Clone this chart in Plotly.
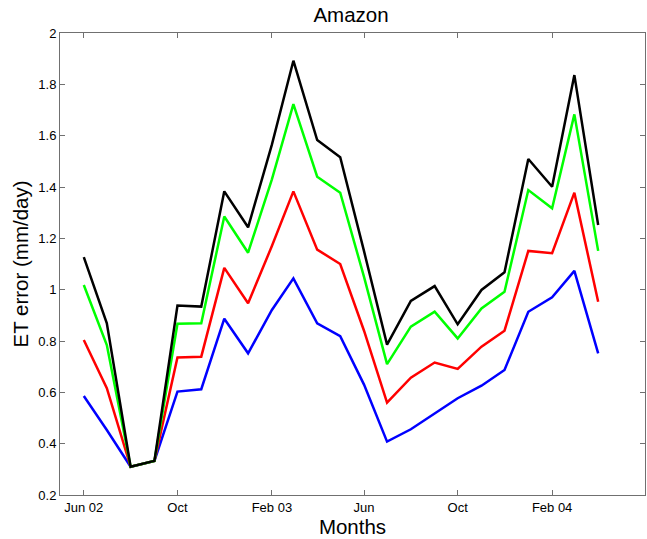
import plotly.graph_objects as go

months = ["2002-06-01", "2002-07-01", "2002-08-01", "2002-09-01", "2002-10-01", "2002-11-01",
          "2002-12-01", "2003-01-01", "2003-02-01", "2003-03-01", "2003-04-01", "2003-05-01",
          "2003-06-01", "2003-07-01", "2003-08-01", "2003-09-01", "2003-10-01", "2003-11-01",
          "2003-12-01", "2004-01-01", "2004-02-01", "2004-03-01", "2004-04-01"]

blue = [0.586, 0.453, 0.31, 0.333, 0.603, 0.612, 0.887, 0.752, 0.921, 1.044, 0.869, 0.819,
        0.63, 0.408, 0.456, 0.516, 0.577, 0.626, 0.687, 0.914, 0.970, 1.073, 0.752]
red = [0.804, 0.616, 0.31, 0.333, 0.736, 0.739, 1.085, 0.947, 1.17, 1.383, 1.156, 1.10,
       0.84, 0.56, 0.657, 0.716, 0.691, 0.778, 0.84, 1.151, 1.142, 1.378, 0.953]
green = [1.018, 0.784, 0.31, 0.333, 0.867, 0.869, 1.285, 1.144, 1.43, 1.723, 1.44, 1.378,
         1.05, 0.71, 0.856, 0.914, 0.81, 0.927, 0.992, 1.388, 1.317, 1.683, 1.151]
black = [1.127, 0.869, 0.31, 0.333, 0.938, 0.934, 1.383, 1.243, 1.565, 1.892, 1.583, 1.516,
         1.15, 0.786, 0.956, 1.014, 0.865, 0.999, 1.068, 1.509, 1.401, 1.836, 1.252]

x_tick_vals = ["2002-06-01", "2002-10-01", "2003-02-01", "2003-06-01", "2003-10-01", "2004-02-01"]
x_tick_text = ["Jun 02", "Oct", "Feb 03", "Jun", "Oct", "Feb 04"]
y_tick_vals = [0.2, 0.4, 0.6, 0.8, 1.0, 1.2, 1.4, 1.6, 1.8, 2.0]
y_tick_text = ["0.2", "0.4", "0.6", "0.8", "1", "1.2", "1.4", "1.6", "1.8", "2"]

series = [("Series 1", blue, "#0000FF"), ("Series 2", red, "#FF0000"),
          ("Series 3", green, "#00FF00"), ("Series 4", black, "#000000")]

fig = go.Figure()
for name, vals, col in series:
    fig.add_trace(go.Scatter(x=months, y=vals, mode="lines", name=name,
                             line=dict(color=col, width=2.5)))

W, H = 647, 539
font_family = "Liberation Sans, Arial, Helvetica, sans-serif"
fig.update_layout(
    width=W, height=H,
    margin=dict(l=59.5, r=2, t=33, b=44),
    paper_bgcolor="white", plot_bgcolor="white",
    showlegend=False,
    font=dict(family=font_family, color="black"),
    title=dict(text="Amazon", x=351 / W, xanchor="center",
               y=1 - 15 / H, yanchor="middle",
               font=dict(size=20.5, family=font_family, color="black")),
)
fig.update_xaxes(
    type="date", range=["2002-05-01", "2004-06-01"],
    tickmode="array", tickvals=x_tick_vals, ticktext=x_tick_text,
    ticks="inside", ticklen=5, tickcolor="#707070", tickwidth=1,
    showline=True, linecolor="#707070", linewidth=1, mirror="ticks",
    showgrid=False, zeroline=False, automargin=False,
    tickfont=dict(size=13, color="black"),
    title=dict(text="Months", font=dict(size=20.5, color="black"), standoff=4),
)
fig.update_yaxes(
    range=[0.2, 2.0],
    tickmode="array", tickvals=y_tick_vals, ticktext=y_tick_text,
    ticks="inside", ticklen=5, tickcolor="#707070", tickwidth=1,
    showline=True, linecolor="#707070", linewidth=1, mirror="ticks",
    showgrid=False, zeroline=False, automargin=False,
    tickfont=dict(size=13, color="black"),
    title=dict(text="ET error (mm/day)", font=dict(size=20.5, color="black"), standoff=4),
)

# remove the browser's default 8px page margin so the figure fills the window exactly
fig.write_html("out.html", config={"displayModeBar": False, "staticPlot": True},
               post_script="document.body.style.margin='0';")
